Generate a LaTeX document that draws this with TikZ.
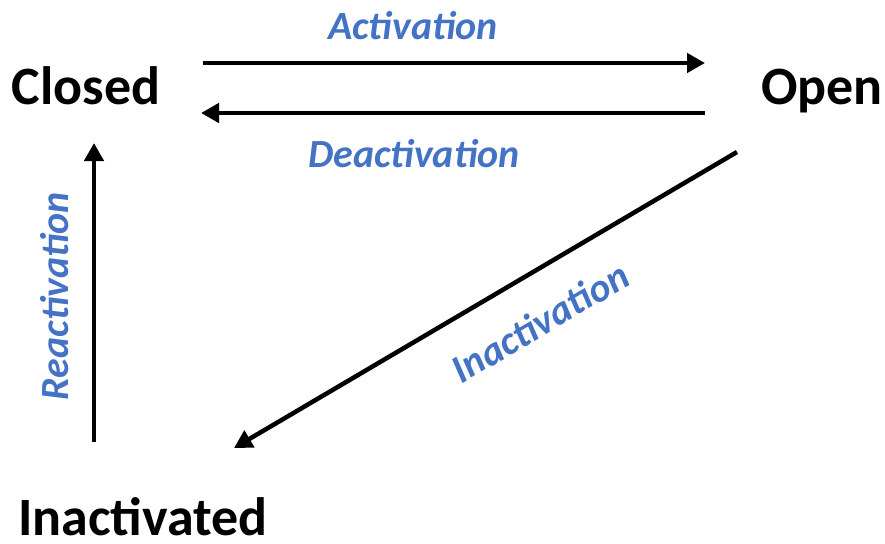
\documentclass[tikz,border=0pt]{standalone}
\usepackage{fontspec}
\setmainfont{Carlito}
\usetikzlibrary{arrows.meta}
\definecolor{labelblue}{HTML}{4472C4}
\begin{document}
\begin{tikzpicture}[x=1pt,y=-1pt,
  state/.style={font=\fontsize{54}{58}\selectfont\bfseries, inner sep=0pt, anchor=base},
  trans/.style={font=\fontsize{40}{44}\selectfont\bfseries\itshape, text=labelblue, inner sep=0pt},
  flow/.style={line width=4.5pt, -{Triangle[length=18pt,width=19pt]}}]
  \useasboundingbox (0,0) rectangle (885,543);
  % states (placed by baseline)
  \node[state] (closed) at (86,104) {Closed};
  \node[state] (open) at (822,104) {Open};
  \node[state] (inact) at (143,535) {Inactivated};
  % end points of the transitions
  \coordinate (a1) at (203,63);  \coordinate (a2) at (705,63);
  \coordinate (d1) at (705,113); \coordinate (d2) at (201,113);
  \coordinate (r1) at (94,442);  \coordinate (r2) at (94,143);
  \coordinate (i1) at (737,152); \coordinate (i2) at (234,448);
  % transitions
  \draw[flow] (a1) -- (a2);
  \draw[flow] (d1) -- (d2);
  \draw[flow] (r1) -- (r2);
  \draw[flow] (i1) -- (i2);
  % labels
  \node[trans] (lact) at (413,26) {Activation};
  \node[trans] (ldeact) at (414,154) {Deactivation};
  \node[trans, rotate=90] (lreact) at (55,296) {Reactivation};
  \node[trans, rotate=30.5] (linact) at (540,322) {Inactivation};
\end{tikzpicture}
\end{document}
